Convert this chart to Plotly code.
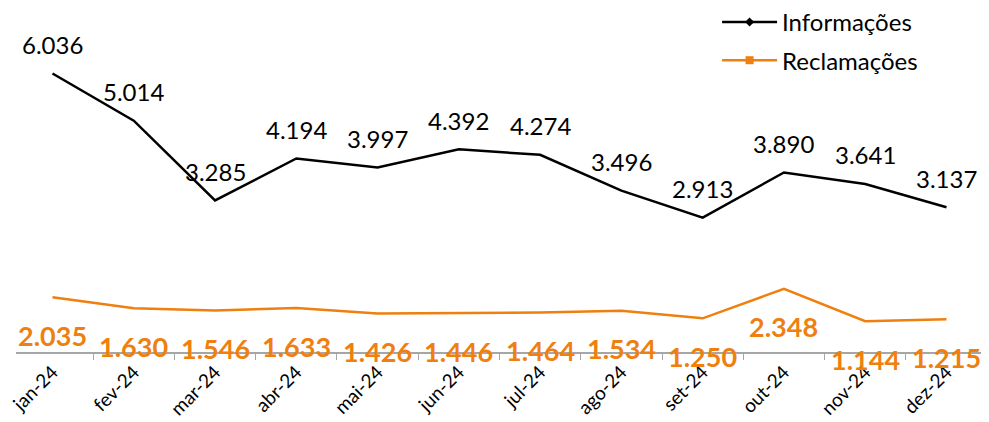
import plotly.graph_objects as go

months = ["jan-24", "fev-24", "mar-24", "abr-24", "mai-24", "jun-24",
          "jul-24", "ago-24", "set-24", "out-24", "nov-24", "dez-24"]
informacoes = [6036, 5014, 3285, 4194, 3997, 4392, 4274, 3496, 2913, 3890, 3641, 3137]
reclamacoes = [2035, 1630, 1546, 1633, 1426, 1446, 1464, 1534, 1250, 2348, 1144, 1215]

BLACK = "#000000"
ORANGE = "#EF7F0E"

def fmt(v):
    return f"{v:,}".replace(",", ".")

fig = go.Figure()
fig.add_trace(go.Scatter(x=months, y=informacoes, mode="lines",
                         line=dict(color=BLACK, width=2.5), showlegend=False, yaxis="y"))
fig.add_trace(go.Scatter(x=months, y=reclamacoes, mode="lines",
                         line=dict(color=ORANGE, width=2.5), showlegend=False, yaxis="y2"))
# legend entries
fig.add_trace(go.Scatter(x=[None], y=[None], mode="lines+markers", name="Informações",
                         legendgroup="a",
                         line=dict(color=BLACK, width=2.5),
                         marker=dict(symbol="diamond", size=7, color=BLACK)))
fig.add_trace(go.Scatter(x=[None], y=[None], mode="lines+markers", name="Reclamações",
                         legendgroup="b",
                         line=dict(color=ORANGE, width=2.5),
                         marker=dict(symbol="square", size=8, color=ORANGE)))

annotations = []
for m, v in zip(months, informacoes):
    annotations.append(dict(x=m, y=v, xref="x", yref="y", text=fmt(v), showarrow=False,
                            yshift=29, font=dict(family="Lato", size=24, color=BLACK)))
for m, v in zip(months, reclamacoes):
    annotations.append(dict(x=m, y=v, xref="x", yref="y2", text=f"<b>{fmt(v)}</b>",
                            showarrow=False, yshift=-38,
                            font=dict(family="Lato", size=27, color=ORANGE)))

fig.update_layout(
    width=989, height=422,
    margin=dict(l=8, r=14, t=21, b=78, autoexpand=False),
    paper_bgcolor="white", plot_bgcolor="white",
    font=dict(family="Lato", color="#000000"),
    xaxis=dict(type="category", tickson="boundaries", ticks="outside", ticklen=6,
               tickcolor="#A6A6A6", showline=True, linecolor="#A6A6A6", linewidth=1.5,
               showgrid=False, tickangle=-45, automargin=False,
               tickfont=dict(size=19, color="#000000")),
    yaxis=dict(range=[0, 7000], visible=False),
    yaxis2=dict(range=[0, 12000], visible=False, overlaying="y", side="right"),
    legend=dict(x=0.725, y=1.09, xanchor="left", yanchor="top",
                font=dict(size=24, color="#000000"), bgcolor="rgba(0,0,0,0)",
                tracegroupgap=4, itemwidth=55),
    annotations=annotations,
    showlegend=True,
)

fig.write_html("out.html")
